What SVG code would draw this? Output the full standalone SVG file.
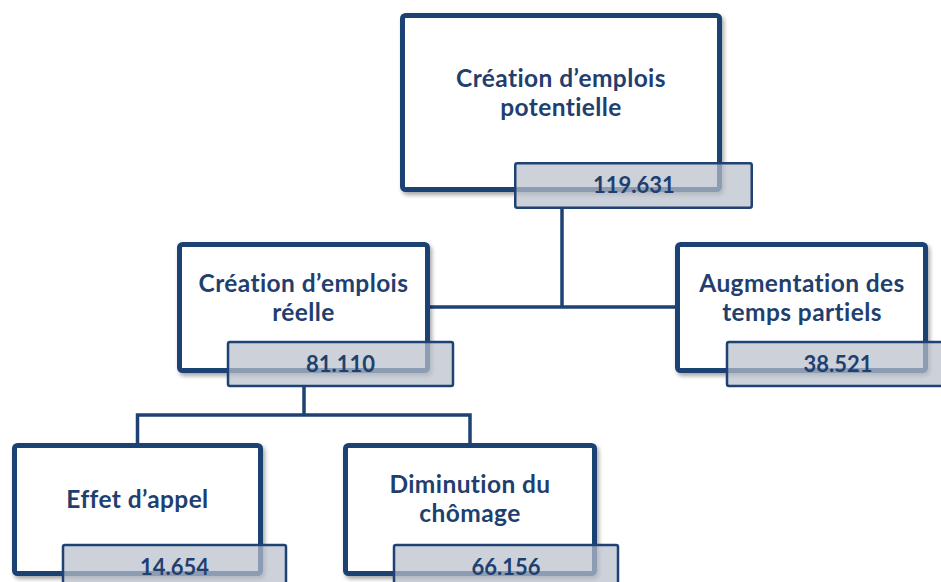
<svg xmlns="http://www.w3.org/2000/svg" width="941" height="582" viewBox="0 0 941 582">
<defs>
<filter id="sh" x="-10%" y="-10%" width="130%" height="130%">
<feGaussianBlur in="SourceAlpha" stdDeviation="2"/>
<feOffset dx="2" dy="3" result="b"/>
<feComponentTransfer><feFuncA type="linear" slope="0.35"/></feComponentTransfer>
<feMerge><feMergeNode/><feMergeNode in="SourceGraphic"/></feMerge>
</filter>
</defs>
<style>
.box{fill:#ffffff;stroke:#1e4273;stroke-width:5;}
.badge{fill:#b9bfcc;fill-opacity:0.72;stroke:#1e4273;stroke-width:2.5;}
.t{font-family:Lato,"Open Sans","Liberation Sans",sans-serif;font-weight:bold;font-size:24.5px;letter-spacing:0.4px;fill:#1f406f;text-anchor:middle;}
.n{font-family:Lato,"Open Sans","Liberation Sans",sans-serif;font-weight:bold;font-size:22px;fill:#1f406f;text-anchor:middle;}
.c{fill:none;stroke:#1e4273;stroke-width:3.5;}
</style>
<rect width="941" height="582" fill="#ffffff"/>
<g id="connectors">
<path class="c" d="M562 209 V307 M430 307 H675"/>
<path class="c" d="M304 387 V415 M137.5 443 V415 H470 V443"/>
</g>
<g id="node-potentielle">
<rect class="box" x="402.5" y="15.5" width="317" height="174" rx="3" filter="url(#sh)"/>
<text class="t" x="561" y="87">Création d’emplois</text>
<text class="t" x="561" y="116">potentielle</text>
<rect class="badge" x="515.25" y="163.25" width="236.5" height="44.5" rx="2"/>
<text class="n" x="634" y="193">119.631</text>
</g>
<g id="node-reelle">
<rect class="box" x="179.5" y="244.5" width="248" height="126" rx="3" filter="url(#sh)"/>
<text class="t" x="303.5" y="292">Création d’emplois</text>
<text class="t" x="303.5" y="321">réelle</text>
<rect class="badge" x="228" y="342" width="225" height="44" rx="2"/>
<text class="n" x="340.5" y="372">81.110</text>
</g>
<g id="node-partiels">
<rect class="box" x="677.5" y="244.5" width="248" height="126" rx="3" filter="url(#sh)"/>
<text class="t" x="802" y="292">Augmentation des</text>
<text class="t" x="802" y="321">temps partiels</text>
<rect class="badge" x="727" y="342" width="225" height="44" rx="2"/>
<text class="n" x="838" y="372">38.521</text>
</g>
<g id="node-appel">
<rect class="box" x="14.5" y="445.5" width="246" height="128" rx="3" filter="url(#sh)"/>
<text class="t" x="137.5" y="508">Effet d’appel</text>
<rect class="badge" x="63" y="545" width="223" height="44" rx="2"/>
<text class="n" x="174.5" y="575">14.654</text>
</g>
<g id="node-chomage">
<rect class="box" x="345.5" y="445.5" width="249" height="128" rx="3" filter="url(#sh)"/>
<text class="t" x="470" y="493">Diminution du</text>
<text class="t" x="470" y="522">chômage</text>
<rect class="badge" x="394" y="545" width="224" height="44" rx="2"/>
<text class="n" x="506" y="575">66.156</text>
</g>
</svg>
